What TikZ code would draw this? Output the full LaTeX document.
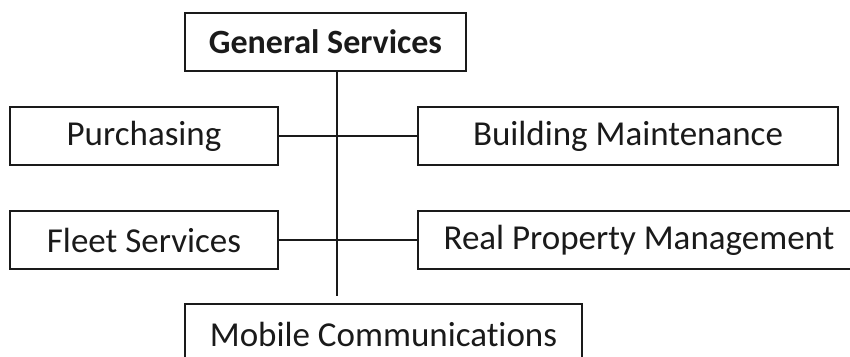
\documentclass[tikz,border=0pt]{standalone}
\usepackage{fontspec}
\setmainfont{Carlito}[Ligatures={NoCommon}]
\usepackage{tikz}
\usetikzlibrary{positioning}
\definecolor{Chart_Ink}{HTML}{1A1A1A}

\begin{document}
\begin{tikzpicture}[x=1pt, y=1pt,
    unit/.style={draw=Chart_Ink, line width=1.3pt, inner sep=0pt, outer sep=0pt,
        minimum height=58pt, text=Chart_Ink, font=\fontsize{35}{40}\selectfont},
    link/.style={draw=Chart_Ink, line width=1.3pt}]
    \path[use as bounding box, clip] (0,0) rectangle (850,-356);
    % Head
    \node[unit, minimum width=281pt, font=\fontsize{34}{40}\selectfont\bfseries] (gen) at (325.5,-42) {General Services};
    % Row 1
    \node[unit, minimum width=268pt] (purch) at (144,-136) {Purchasing};
    \node[unit, minimum width=420pt] (build) at (628,-136) {Building Maintenance};
    % Row 2
    \node[unit, minimum width=268pt] (fleet) at (144,-240) {Fleet Services};
    \node[unit, minimum width=442pt] (realp) at (639,-240) {Real Property Management};
    % Bottom
    \node[unit, minimum width=397pt, minimum height=60pt] (mobile) at (383.5,-334) {Mobile Communications};

    % spine and branches
    \coordinate (spine) at (337,-296);
    \draw[link] (gen.south -| spine) -- (spine);
    \draw[link] (purch.east) -- (build.west);
    \draw[link] (fleet.east) -- (realp.west);
\end{tikzpicture}
\end{document}
